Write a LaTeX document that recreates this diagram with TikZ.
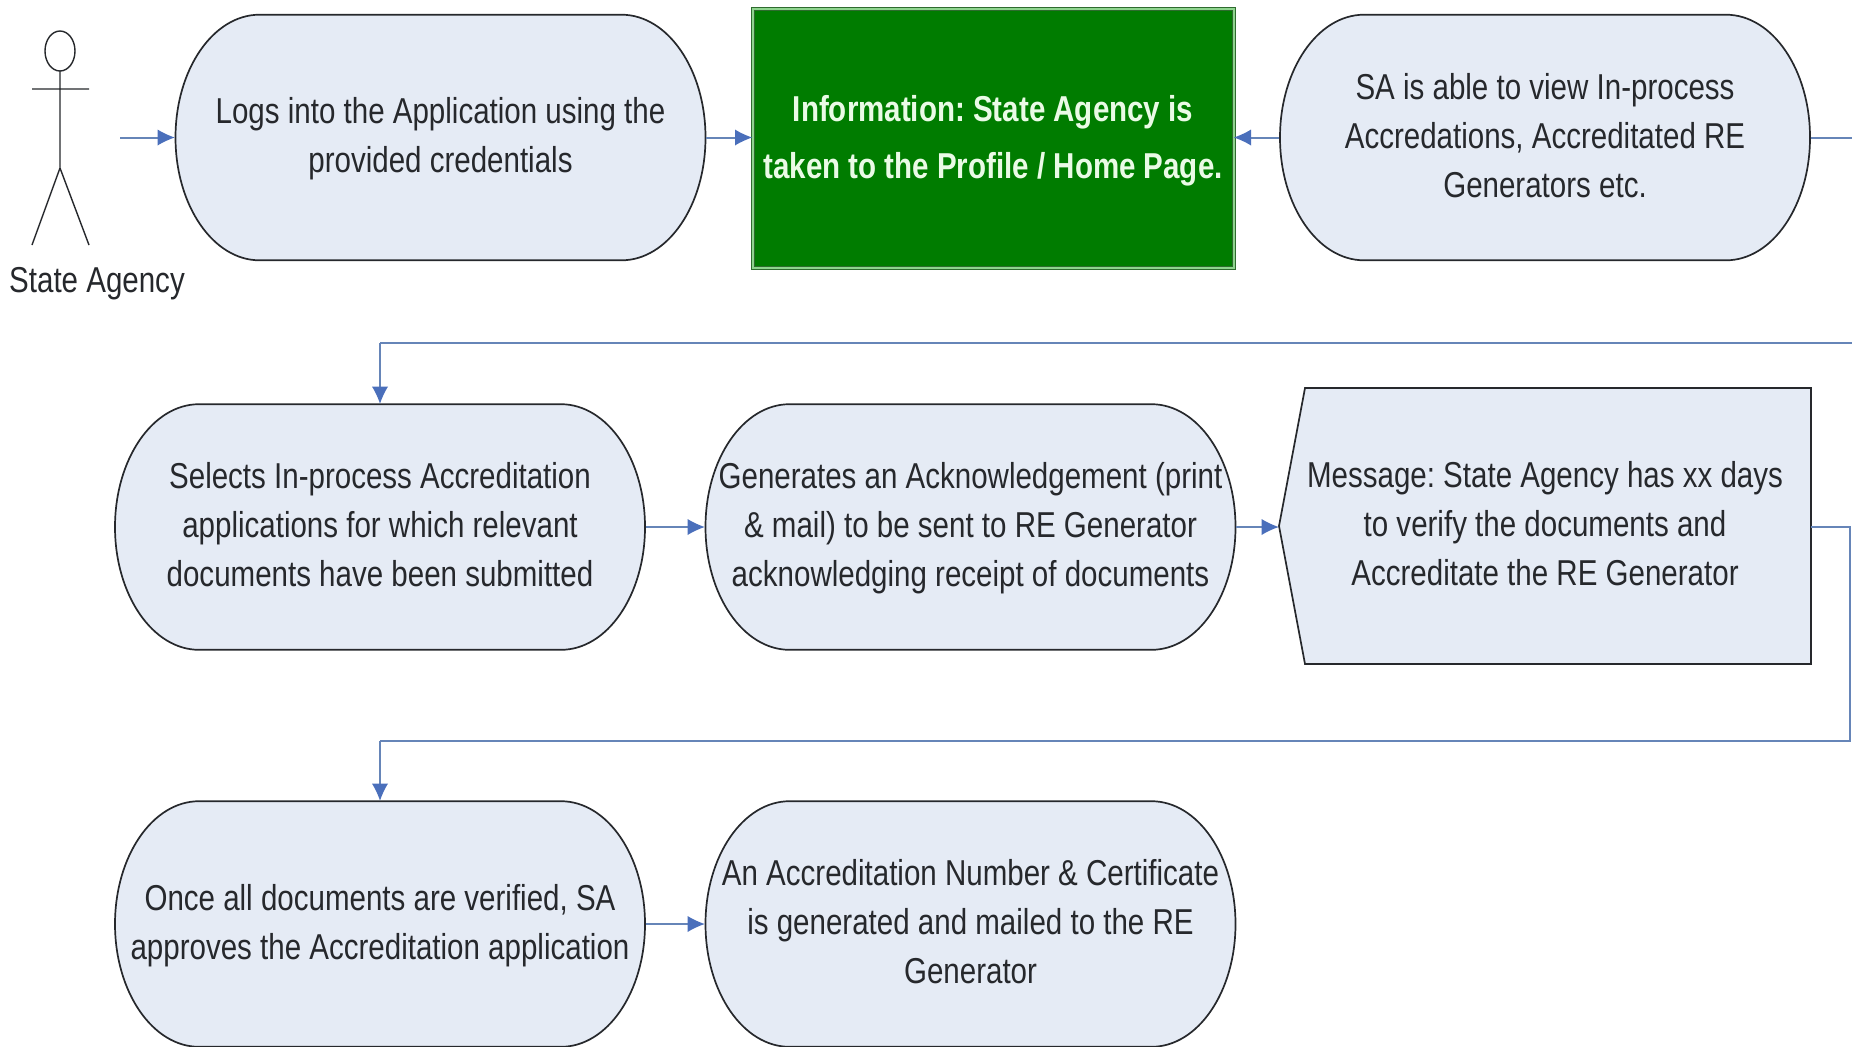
\documentclass[tikz,border=0pt]{standalone}
\usepackage{fontspec}
\setmainfont[FakeStretch=0.82]{Liberation Sans}
\usetikzlibrary{arrows.meta}
\definecolor{pillfill}{HTML}{E5EBF5}
\definecolor{linkblue}{HTML}{6685B8}
\definecolor{tipblue}{HTML}{4A6FBB}
\definecolor{inkdark}{HTML}{26282C}
\definecolor{greenfill}{HTML}{007C00}
\definecolor{greenedge}{HTML}{8FD48F}
\definecolor{greendark}{HTML}{2E6B2E}
\definecolor{greentext}{HTML}{EAFBE6}
\tikzset{
  x=0.5pt,y=-0.5pt,
  txt/.style={align=center,font=\fontsize{18pt}{24.5pt}\selectfont\frenchspacing,text=inkdark,inner sep=0pt},
  box/.style={draw=inkdark,line width=0.85pt,fill=pillfill},
  link/.style={draw=linkblue,line width=1pt},
  arr/.style={link,-{Latex[length=8.5pt,width=8pt,fill=tipblue,line width=0pt]}},
  anchorbox/.style={minimum width=#1*0.5pt,minimum height=123pt},
  actor/.style={draw=inkdark,line width=0.7pt},
}
% text is set between struts that put its baselines at a fixed offset from the node centre
\newcommand{\lined}[1]{\rule{0pt}{25.3pt}#1\rule[-14.7pt]{0pt}{0pt}}
\newcommand{\linedgreen}[1]{\rule{0pt}{25.8pt}#1\rule[-14.2pt]{0pt}{0pt}}
% name, centre x, centre y, text
\newcommand{\pillnode}[4]{%
  \path[box] (#2,#3) ++(-181,-122.8)
    -- ++(362,0) arc[start angle=90,end angle=0,x radius=42pt,y radius=61.4pt]
    arc[start angle=0,end angle=-90,x radius=42pt,y radius=61.4pt]
    -- ++(-362,0) arc[start angle=270,end angle=180,x radius=42pt,y radius=61.4pt]
    arc[start angle=180,end angle=90,x radius=42pt,y radius=61.4pt] -- cycle;
  \node[txt,anchorbox=531] (#1) at (#2,#3) {\lined{#4}};
}
\begin{document}
\begin{tikzpicture}
\useasboundingbox (0,0) rectangle (1852,1046);
\fill[white] (0,0) rectangle (1852,1046);
% actor
\draw[actor] (60,51) ellipse[x radius=7.5pt,y radius=10pt];
\draw[actor] (60,71) -- (60,168) (32,89) -- (89,89) (32,245) -- (60,168) -- (89,245);
\node[txt] (agency) at (97,283.5) {State Agency};
\coordinate (start) at (120,137.5);
% row 1
\pillnode{login}{440.5}{137.5}{Logs into the Application using the\\provided credentials}
\node[draw=greendark,double=greenedge,double distance=1pt,line width=0.5pt,fill=greenfill,minimum width=240.5pt,minimum height=129.5pt,inner sep=0pt,align=center,text=greentext,font=\fontsize{18pt}{28.3pt}\selectfont\bfseries\frenchspacing] (info) at (993,138.5) {\linedgreen{Information: State Agency is\\taken to the Profile / Home Page.}};
\pillnode{view}{1545}{137.5}{SA is able to view In-process\\Accredations, Accreditated RE\\Generators etc.}
% row 2
\pillnode{select}{380}{527}{Selects In-process Accreditation\\applications for which relevant\\documents have been submitted}
\pillnode{ack}{970.5}{527}{Generates an Acknowledgement (print\\\& mail) to be sent to RE Generator\\acknowledging receipt of documents}
\path[box] (1305,388) -- (1811,388) -- (1811,664) -- (1305,664) -- (1279,526) -- cycle;
\node[txt,minimum width=266pt,minimum height=138pt] (msg) at (1545,526) {\lined{Message: State Agency has xx days\\to verify the documents and\\Accreditate the RE Generator}};
% row 3
\pillnode{approve}{380}{924}{Once all documents are verified, SA\\approves the Accreditation application}
\pillnode{cert}{970.5}{924}{An Accreditation Number \& Certificate\\is generated and mailed to the RE\\Generator}
% connectors
\coordinate (r1a) at (1853,137.5);
\coordinate (r1b) at (1853,343);
\coordinate (r1c) at (380,343);
\coordinate (r2a) at (1850,527);
\coordinate (r2b) at (1850,741);
\coordinate (r2c) at (380,741);
\draw[arr] (start) -- (login.west);
\draw[arr] (login.east) -- (login.east -| info.west);
\draw[arr] (view.west) -- (view.west -| info.east);
\draw[link] (view.east) -- (r1a) -- (r1b) -- (r1c);
\draw[arr] (r1c) -- (select.north);
\draw[arr] (select.east) -- (ack.west);
\draw[arr] (ack.east) -- (ack.east -| msg.west);
\draw[link] (msg.east |- r2a) -- (r2a) -- (r2b) -- (r2c);
\draw[arr] (r2c) -- (approve.north);
\draw[arr] (approve.east) -- (cert.west);
\end{tikzpicture}
\end{document}
